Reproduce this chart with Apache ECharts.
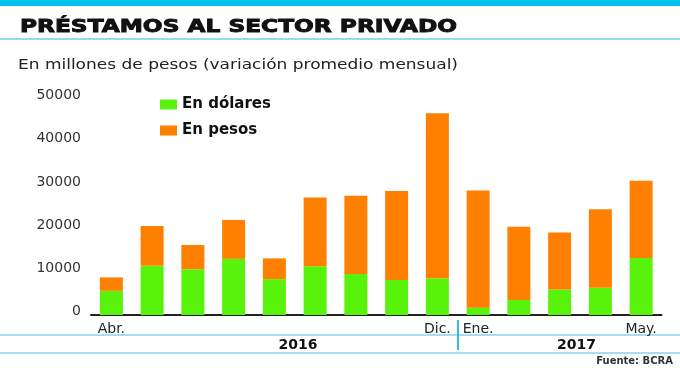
<!DOCTYPE html>
<html>
<head>
<meta charset="utf-8">
<script src="https://cdn.jsdelivr.net/npm/echarts@6/dist/echarts.min.js"></script>
<style>
html,body{margin:0;padding:0;background:#fff;}
#chart{width:680px;height:368px;}
</style>
</head>
<body>
<div id="chart"></div>
<script>
// ---- Data ----
const categories = ["Abr. 2016","May. 2016","Jun. 2016","Jul. 2016","Ago. 2016","Sep. 2016","Oct. 2016","Nov. 2016","Dic. 2016","Ene. 2017","Feb. 2017","Mar. 2017","Abr. 2017","May. 2017"];
const tickLabels = ["Abr.","","","","","","","","Dic.","Ene.","","","","May."];
const enDolares = [5600, 11400, 10600, 13000, 8300, 11300, 9500, 8100, 8500, 1700, 3500, 5900, 6300, 13200];
const enPesos   = [3100, 9200, 5600, 9000, 4800, 15900, 18100, 20600, 38200, 27100, 16900, 13200, 18200, 17900];
const yTicks = [0, 10000, 20000, 30000, 40000, 50000];
const years = ["2016", "2017"];
const titleText = "PRÉSTAMOS AL SECTOR PRIVADO";
const subtitleText = "En millones de pesos (variación promedio mensual)";
const sourceText = "Fuente: BCRA";
const seriesNames = ["En dólares", "En pesos"];

// ---- Helpers for stretching the wide headline font ----
const ctx = document.createElement('canvas').getContext('2d');
function measure(text, font) { ctx.font = font; return ctx.measureText(text).width; }
const titleFont = 'bold 17.5px "DejaVu Sans"';
const titleScale = 437 / measure(titleText, titleFont);
const subFont = '14px "DejaVu Sans"';
const subScale = 440 / measure(subtitleText, subFont);

const GREEN = '#58f20a';
const ORANGE = '#ff7f00';
const CYAN_LINE = '#86d4ea';

const chart = echarts.init(document.getElementById('chart'), null, {renderer: 'canvas'});
chart.setOption({
  backgroundColor: '#ffffff',
  animation: false,
  grid: {left: 91, right: 18.5, top: 99, bottom: 53, containLabel: false},
  legend: {
    data: seriesNames,
    orient: 'vertical',
    left: 155, top: 92,
    itemWidth: 17, itemHeight: 10, itemGap: 11,
    icon: 'rect',
    textStyle: {fontFamily: '"DejaVu Sans"', fontWeight: 'bold', fontSize: 15, color: '#111'}
  },
  xAxis: {
    type: 'category',
    data: categories,
    boundaryGap: true,
    axisLine: {show: true, lineStyle: {color: '#222', width: 2}},
    axisTick: {show: false},
    axisLabel: {
      interval: 0, margin: 7,
      fontFamily: '"DejaVu Sans"', fontSize: 14, color: '#222',
      formatter: (v, i) => tickLabels[i]
    }
  },
  yAxis: {
    type: 'value',
    min: yTicks[0], max: yTicks[yTicks.length - 1], interval: 10000,
    axisLine: {show: false}, axisTick: {show: false},
    splitLine: {show: false},
    axisLabel: {
      margin: 10, fontFamily: '"DejaVu Sans"', fontSize: 14, color: '#333',
      verticalAlign: 'bottom', lineHeight: 7,
      formatter: v => String(v)
    }
  },
  series: [
    {name: seriesNames[0], type: 'bar', stack: 'total', data: enDolares, barWidth: 23,
     itemStyle: {color: GREEN}},
    {name: seriesNames[1], type: 'bar', stack: 'total', data: enPesos, barWidth: 23,
     itemStyle: {color: ORANGE}}
  ],
  graphic: [
    {type: 'rect', shape: {x: 0, y: 0, width: 680, height: 6}, style: {fill: '#00c2f0'}, silent: true},
    {type: 'text', x: 20, y: 27.5, scaleX: titleScale,
     style: {text: titleText, font: titleFont, fill: '#111', stroke: '#111', lineWidth: 0.9,
             textAlign: 'left', textVerticalAlign: 'middle', align: 'left', verticalAlign: 'middle'}},
    {type: 'line', shape: {x1: 0, y1: 39, x2: 680, y2: 39}, style: {stroke: '#6fd0e6', lineWidth: 1.5}, silent: true},
    {type: 'text', x: 18, y: 65.5, scaleX: subScale,
     style: {text: subtitleText, font: subFont, fill: '#222',
             textAlign: 'left', textVerticalAlign: 'middle', align: 'left', verticalAlign: 'middle'}},
    {type: 'line', shape: {x1: 0, y1: 335, x2: 680, y2: 335}, style: {stroke: CYAN_LINE, lineWidth: 1.5}, silent: true},
    {type: 'line', shape: {x1: 0, y1: 353, x2: 680, y2: 353}, style: {stroke: CYAN_LINE, lineWidth: 1.5}, silent: true},
    {type: 'line', shape: {x1: 458, y1: 320, x2: 458, y2: 350}, style: {stroke: '#35bde6', lineWidth: 2}, silent: true},
    {type: 'text', x: 298, y: 345,
     style: {text: years[0], font: 'bold 14px "DejaVu Sans"', fill: '#111',
             textAlign: 'center', textVerticalAlign: 'middle', align: 'center', verticalAlign: 'middle'}},
    {type: 'text', x: 576.5, y: 345,
     style: {text: years[1], font: 'bold 14px "DejaVu Sans"', fill: '#111',
             textAlign: 'center', textVerticalAlign: 'middle', align: 'center', verticalAlign: 'middle'}},
    {type: 'text', x: 673, y: 361,
     style: {text: sourceText, font: 'bold 10px "DejaVu Sans"', fill: '#333',
             textAlign: 'right', textVerticalAlign: 'middle', align: 'right', verticalAlign: 'middle'}}
  ]
});
</script>
</body>
</html>
